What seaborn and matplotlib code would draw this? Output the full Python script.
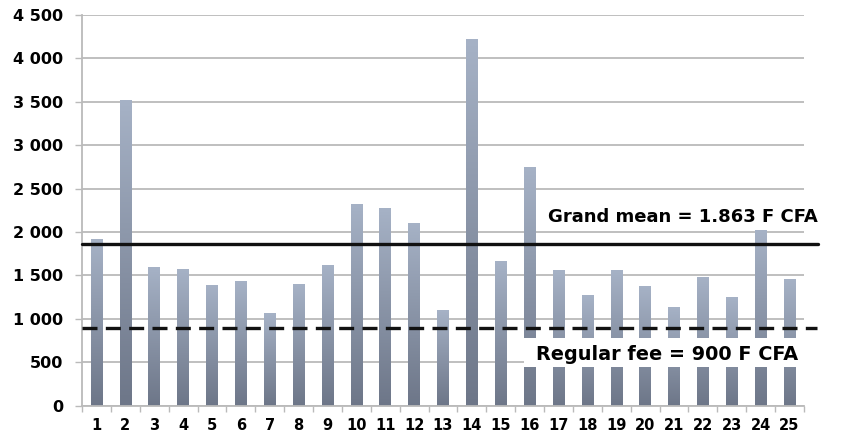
import numpy as np
import pandas as pd
import matplotlib
matplotlib.use("Agg")
import matplotlib.pyplot as plt
from matplotlib.colors import LinearSegmentedColormap
from matplotlib.patches import Rectangle
from matplotlib.ticker import FixedLocator, FuncFormatter
import seaborn as sns

# Average fee per health centre (F CFA)
centres = [str(i) for i in range(1, 26)]
fees = [1920, 3520, 1595, 1580, 1395, 1435, 1070, 1400, 1625, 2320,
        2280, 2110, 1100, 4220, 1665, 2750, 1560, 1270, 1560, 1380,
        1140, 1485, 1255, 2020, 1460]
grand_mean = 1863
regular_fee = 900
y_ticks = [0, 500, 1000, 1500, 2000, 2500, 3000, 3500, 4000, 4500]

df = pd.DataFrame({"centre": centres, "fee": fees})

sns.set_style("white")
plt.rcParams["font.family"] = ["DejaVu Sans"]
plt.rcParams["text.color"] = "black"
plt.rcParams["xtick.labelcolor"] = "black"
plt.rcParams["ytick.labelcolor"] = "black"

fig = plt.figure(figsize=(8.42, 4.37), dpi=100)
ax = fig.add_axes([82 / 842, 31.3 / 437, 722 / 842, 390.7 / 437])

sns.barplot(data=df, x="centre", y="fee", width=0.4, color="#8a95a8",
            ax=ax, zorder=2)

# Vertical light-to-dark fill on every bar
cmap = LinearSegmentedColormap.from_list("barfill", ["#6d7688", "#a6b2c6"])
grad = np.linspace(0, 1, 256).reshape(-1, 1)
for patch in list(ax.patches):
    x0, y0 = patch.get_x(), patch.get_y()
    w, h = patch.get_width(), patch.get_height()
    im = ax.imshow(grad, cmap=cmap, origin="lower", aspect="auto",
                   extent=(x0, x0 + w, y0, y0 + h), zorder=2)
    im.set_clip_path(patch)
    patch.set_facecolor("none")
    patch.set_edgecolor("none")

ax.set_xlim(-0.5, len(centres) - 0.5)
ax.set_ylim(0, 4500)

# Grid and axes
ax.yaxis.set_major_locator(FixedLocator(y_ticks))
ax.yaxis.set_major_formatter(FuncFormatter(lambda v, p: f"{int(v):,}".replace(",", " ")))
ax.grid(axis="y", color="#bababa", linewidth=1.3, zorder=0)
ax.set_axisbelow(True)
for side in ["top", "right"]:
    ax.spines[side].set_visible(False)
for side in ["left", "bottom"]:
    ax.spines[side].set_color("#bababa")
    ax.spines[side].set_linewidth(1.3)

ax.xaxis.set_minor_locator(FixedLocator(np.arange(-0.5, len(centres), 1.0)))
ax.tick_params(axis="x", which="major", length=0, pad=9)
ax.tick_params(axis="x", which="minor", length=4, width=1, color="#bababa",
               direction="out", bottom=True)
ax.tick_params(axis="y", length=5, width=1, color="#bababa", direction="out",
               left=True, pad=8.5)
for lab in ax.get_xticklabels():
    lab.set_fontweight("bold")
    lab.set_fontsize(10.5)
    lab.set_color("black")
for lab in ax.get_yticklabels():
    lab.set_fontweight("bold")
    lab.set_fontsize(11.5)
    lab.set_color("black")
ax.set_xlabel("")
ax.set_ylabel("")

# Reference lines
ax.axhline(grand_mean, xmin=0, xmax=1.019, color="#111111", linewidth=2.4,
           clip_on=False, zorder=4)
ax.axhline(regular_fee, xmin=0, xmax=1.018, color="#111111", linewidth=2.4,
           linestyle=(0, (4.5, 2.5)), clip_on=False, zorder=4)

ytr = ax.get_yaxis_transform()
ax.text(0.6458, 2113, f"Grand mean = {grand_mean/1000:.3f} F CFA", transform=ytr,
        ha="left", va="baseline", fontsize=13, fontweight="bold", zorder=5,
        color="black", clip_on=False)

# White label panel for the regular fee
ax.add_patch(Rectangle((0.612, 449), 0.399, 331, transform=ytr,
                       facecolor="white", edgecolor="none", zorder=4.5,
                       clip_on=False))
ax.text(0.6283, 526, f"Regular fee = {regular_fee} F CFA", transform=ytr,
        ha="left", va="baseline", fontsize=13.9, fontweight="bold", zorder=5,
        color="black")

fig.savefig("out.png", dpi=100)
